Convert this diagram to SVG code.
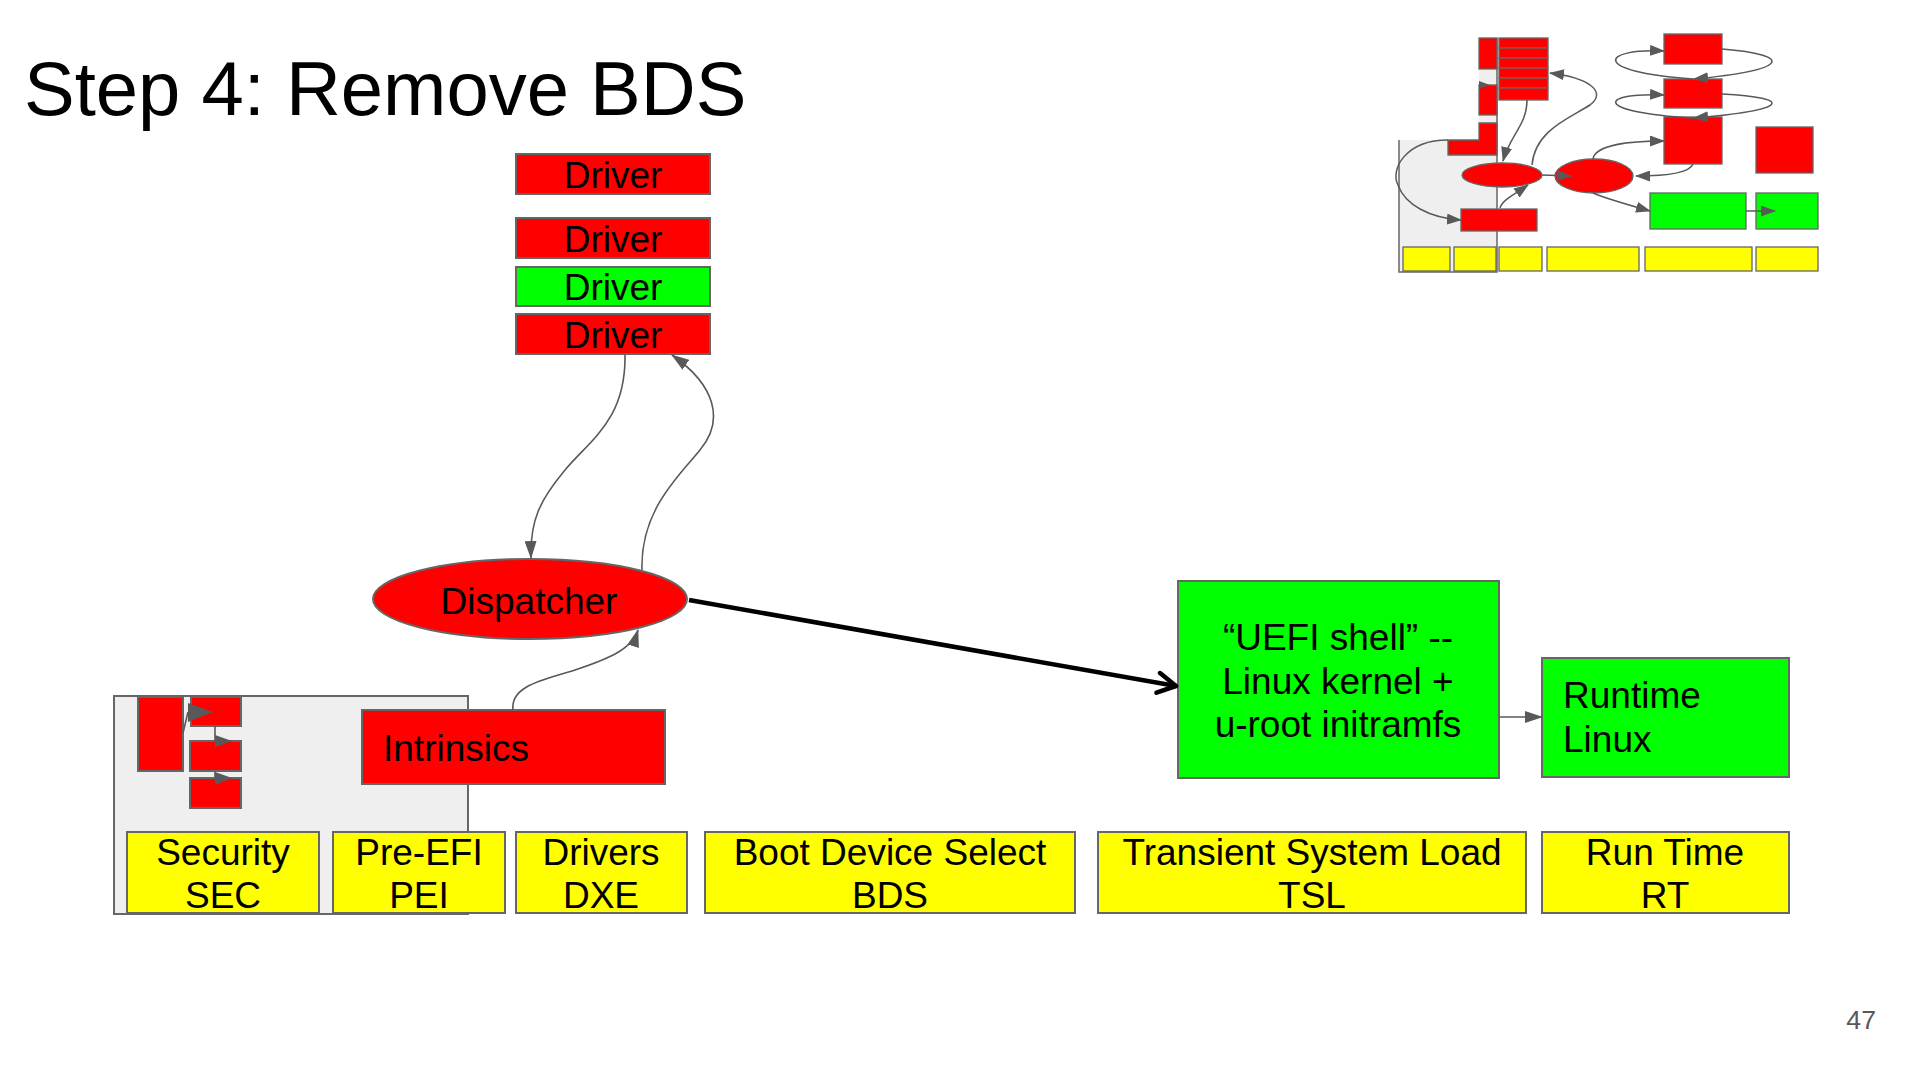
<svg xmlns="http://www.w3.org/2000/svg" width="1920" height="1080" viewBox="0 0 1920 1080">
<style>
text{font-family:"Liberation Sans",Arial,sans-serif;fill:#000}
.lbl{font-size:37px}
.c{text-anchor:middle}
.red{fill:#ff0000;stroke:#666666;stroke-width:2}
.grn{fill:#00ff00;stroke:#666666;stroke-width:2}
.yel{fill:#ffff00;stroke:#666666;stroke-width:2}
.gry{fill:#efefef;stroke:#666666;stroke-width:2}
.con{fill:none;stroke:#595959;stroke-width:1.6}
.tcon{fill:none;stroke:#595959;stroke-width:1.5}
.tred{fill:#ff0000;stroke:#666666;stroke-width:1.3}
.tgrn{fill:#00ff00;stroke:#666666;stroke-width:1.3}
.tyel{fill:#ffff00;stroke:#666666;stroke-width:1.3}
.head{fill:#595959}
</style>
<defs>
<marker id="ah" markerUnits="userSpaceOnUse" markerWidth="18" markerHeight="12" refX="17" refY="6" orient="auto">
<path d="M0,0 L18,6 L0,12 z" fill="#595959"/>
</marker>
<marker id="ahs" markerUnits="userSpaceOnUse" markerWidth="15" markerHeight="11" refX="14" refY="5.5" orient="auto">
<path d="M0,0 L15,5.5 L0,11 z" fill="#595959"/>
</marker>
<marker id="open" markerUnits="userSpaceOnUse" markerWidth="26" markerHeight="26" refX="22" refY="13" orient="auto">
<path d="M4,3 L22,13 L4,23" fill="none" stroke="#000" stroke-width="4.5" stroke-linecap="round" stroke-linejoin="round"/>
</marker>
</defs>
<rect width="1920" height="1080" fill="#ffffff"/>

<text id="title" x="24" y="115" font-size="76">Step 4: Remove BDS</text>

<g id="phase-context">
<rect class="gry" x="114" y="696" width="354" height="218"/>
<rect class="red" x="138" y="697" width="45" height="74"/>
<rect class="red" x="191" y="697" width="50" height="29"/>
<rect class="red" x="190" y="741" width="51" height="30"/>
<rect class="red" x="190" y="778" width="51" height="30"/>
<path d="M183,733 L188,712" class="con" stroke-width="2.5"/>
<polygon class="head" points="188,703 213,712 188,722"/>
<path d="M215,726 V741" class="con" stroke-width="2"/>
<polygon class="head" points="215,735 232,741 215,747"/>
<path d="M215,771 V778" class="con" stroke-width="2"/>
<polygon class="head" points="215,772 232,778 215,785"/>
</g>

<g id="driver1"><rect class="red" x="516" y="154" width="194" height="40"/><text class="lbl c" x="613" y="188">Driver</text></g>
<g id="driver2"><rect class="red" x="516" y="218" width="194" height="40"/><text class="lbl c" x="613" y="252">Driver</text></g>
<g id="driver3"><rect class="grn" x="516" y="267" width="194" height="39"/><text class="lbl c" x="613" y="300">Driver</text></g>
<g id="driver4"><rect class="red" x="516" y="314" width="194" height="40"/><text class="lbl c" x="613" y="348">Driver</text></g>

<g id="dispatcher"><ellipse class="red" cx="530" cy="599" rx="157" ry="40"/><text class="lbl c" x="529" y="614">Dispatcher</text></g>

<g id="intrinsics"><rect class="red" x="362" y="710" width="303" height="74"/><text class="lbl" x="383" y="761">Intrinsics</text></g>

<g id="uefi-shell"><rect class="grn" x="1178" y="581" width="321" height="197"/>
<text class="lbl c" x="1338" y="650">“UEFI shell” --</text>
<text class="lbl c" x="1338" y="694">Linux kernel +</text>
<text class="lbl c" x="1338" y="737">u-root initramfs</text></g>

<g id="runtime-linux"><rect class="grn" x="1542" y="658" width="247" height="119"/>
<text class="lbl" x="1563" y="708">Runtime</text>
<text class="lbl" x="1563" y="752">Linux</text></g>

<g id="sec"><rect class="yel" x="127" y="832" width="192" height="81"/><text class="lbl c" x="223" y="865">Security</text><text class="lbl c" x="223" y="908">SEC</text></g>
<g id="pei"><rect class="yel" x="333" y="832" width="172" height="81"/><text class="lbl c" x="419" y="865">Pre-EFI</text><text class="lbl c" x="419" y="908">PEI</text></g>
<g id="dxe"><rect class="yel" x="516" y="832" width="171" height="81"/><text class="lbl c" x="601" y="865">Drivers</text><text class="lbl c" x="601" y="908">DXE</text></g>
<g id="bds"><rect class="yel" x="705" y="832" width="370" height="81"/><text class="lbl c" x="890" y="865">Boot Device Select</text><text class="lbl c" x="890" y="908">BDS</text></g>
<g id="tsl"><rect class="yel" x="1098" y="832" width="428" height="81"/><text class="lbl c" x="1312" y="865">Transient System Load</text><text class="lbl c" x="1312" y="908">TSL</text></g>
<g id="rt"><rect class="yel" x="1542" y="832" width="247" height="81"/><text class="lbl c" x="1665" y="865">Run Time</text><text class="lbl c" x="1665" y="908">RT</text></g>

<g id="connectors">
<path class="con" d="M625,355 C626,420 590,440 565,470 C540,500 530,520 531,558" marker-end="url(#ah)"/>
<path class="con" d="M642,570 C640,510 680,475 700,450 C725,420 715,385 672,355" marker-end="url(#ah)"/>
<path class="con" d="M513,710 C510,685 545,680 575,670 C605,660 632,650 638,630" marker-end="url(#ah)"/>
<path d="M689,600 L1176,686" fill="none" stroke="#000" stroke-width="4.5" marker-end="url(#open)"/>
<path class="con" d="M1499,717 L1542,717" marker-end="url(#ah)"/>
</g>

<g id="overview-thumbnail">
<rect x="1399" y="140" width="98" height="132" fill="#efefef"/>
<rect x="1479" y="38" width="18" height="102" fill="#efefef"/>
<path d="M1399,140 V272 H1497 V38" fill="none" stroke="#666666" stroke-width="1.5"/>
<rect class="tred" x="1479" y="38" width="18" height="31"/>
<rect class="tred" x="1479" y="85" width="18" height="30"/>
<path class="tred" d="M1479,123 H1497 V155 H1448 V140 H1479 Z"/>
<polygon class="head" points="1479,81 1490,85 1479,89"/>
<rect class="tred" x="1499" y="38" width="49" height="10"/>
<rect class="tred" x="1499" y="48" width="49" height="10"/>
<rect class="tred" x="1499" y="58" width="49" height="10"/>
<rect class="tred" x="1499" y="68" width="49" height="10"/>
<rect class="tred" x="1499" y="78" width="49" height="10"/>
<rect class="tred" x="1499" y="88" width="49" height="12"/>
<rect class="tred" x="1664" y="34" width="58" height="30"/>
<rect class="tred" x="1664" y="79" width="58" height="29"/>
<rect class="tred" x="1664" y="117" width="58" height="47"/>
<rect class="tred" x="1756" y="127" width="57" height="46"/>
<ellipse class="tred" cx="1502" cy="175" rx="40" ry="12"/>
<ellipse class="tred" cx="1594" cy="176" rx="39" ry="17"/>
<rect class="tred" x="1461" y="209" width="76" height="22"/>
<rect class="tgrn" x="1650" y="193" width="96" height="36"/>
<rect class="tgrn" x="1756" y="193" width="62" height="36"/>
<rect class="tyel" x="1403" y="247" width="47" height="24"/>
<rect class="tyel" x="1454" y="247" width="42" height="24"/>
<rect class="tyel" x="1499" y="247" width="43" height="24"/>
<rect class="tyel" x="1547" y="247" width="92" height="24"/>
<rect class="tyel" x="1645" y="247" width="107" height="24"/>
<rect class="tyel" x="1756" y="247" width="62" height="24"/>
<path class="tcon" d="M1527,100 C1527,125 1510,135 1503,161" marker-end="url(#ahs)"/>
<path class="tcon" d="M1532,165 C1535,130 1570,118 1590,105 C1607,92 1590,78 1550,73" marker-end="url(#ahs)"/>
<path class="tcon" d="M1500,208 C1502,200 1515,194 1528,185" marker-end="url(#ahs)"/>
<path class="tcon" d="M1448,140 C1405,140 1390,170 1398,185 C1405,205 1430,218 1461,220" marker-end="url(#ahs)"/>
<path class="tcon" d="M1542,175 L1571,176" marker-end="url(#ahs)"/>
<path class="tcon" d="M1722,49 C1795,55 1790,70 1694,79" marker-end="url(#ahs)"/>
<path class="tcon" d="M1693,79 C1590,72 1600,48 1664,51" marker-end="url(#ahs)"/>
<path class="tcon" d="M1722,94 C1795,98 1790,110 1694,118" marker-end="url(#ahs)"/>
<path class="tcon" d="M1693,118 C1590,112 1600,92 1664,95" marker-end="url(#ahs)"/>
<path class="tcon" d="M1593,159 C1595,145 1630,141 1664,141" marker-end="url(#ahs)"/>
<path class="tcon" d="M1693,164 C1690,172 1670,176 1636,176" marker-end="url(#ahs)"/>
<path class="tcon" d="M1593,193 C1605,198 1625,204 1650,211" marker-end="url(#ahs)"/>
<path class="tcon" d="M1746,211 L1775,211" marker-end="url(#ahs)"/>
</g>

<text id="page-number" x="1876" y="1029" font-size="26.7" text-anchor="end" style="fill:#595959">47</text>
</svg>
